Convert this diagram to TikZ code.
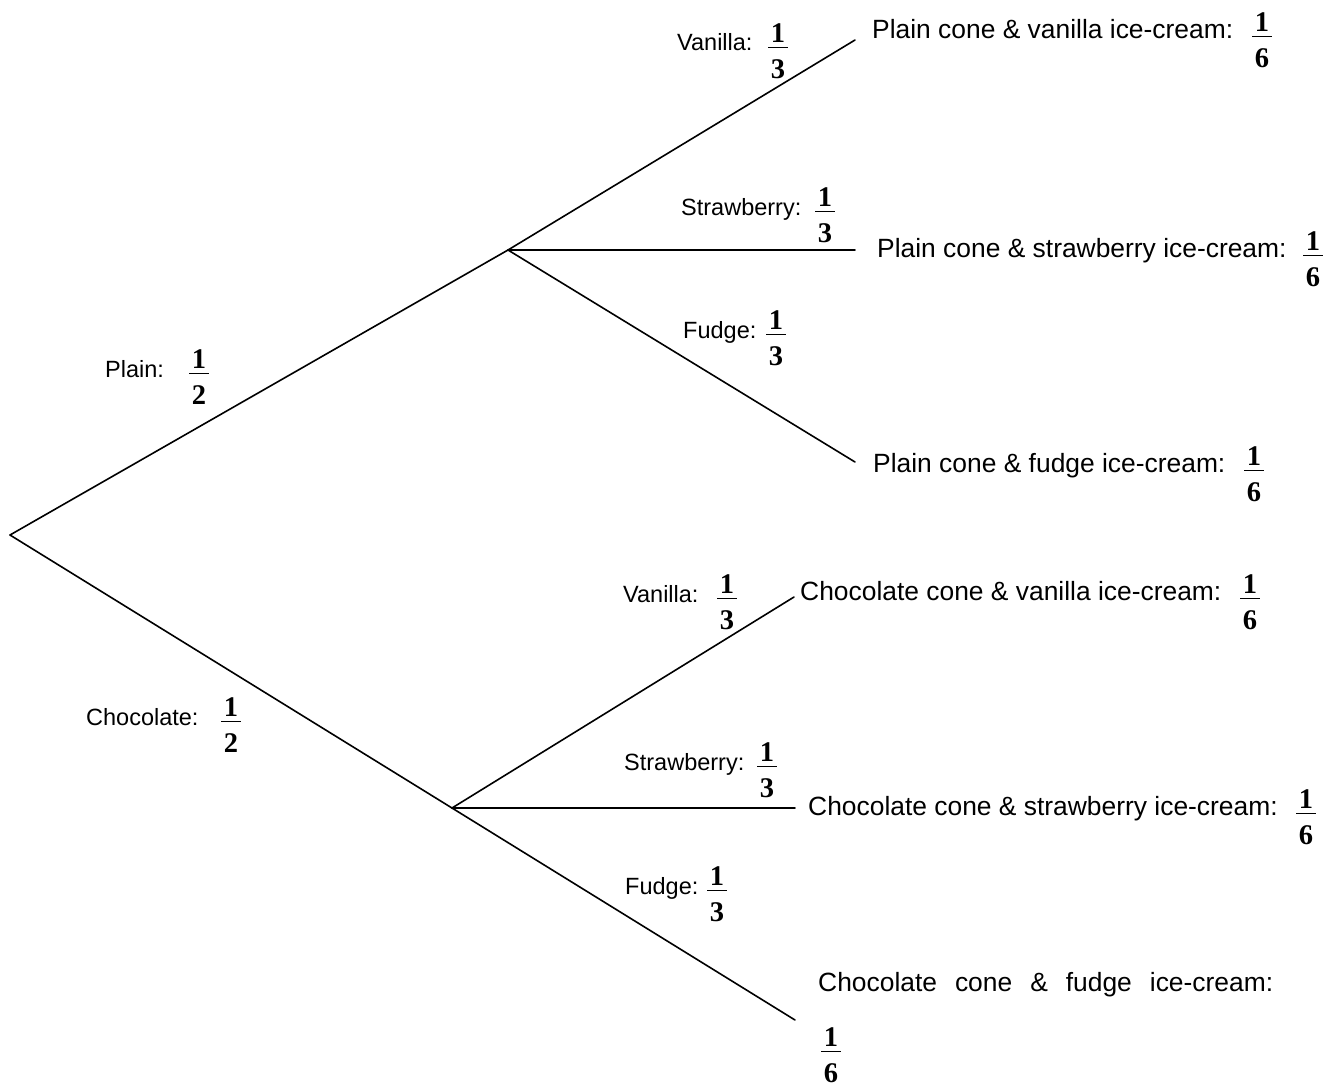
\documentclass[tikz,border=0pt]{standalone}
\usepackage{fontspec}
\setmainfont{Liberation Sans}
\newfontfamily\tnr{Liberation Serif}
\newcommand{\fr}[2]{\vbox{\offinterlineskip\halign{\hfil\kern2.5pt##\kern2.5pt\hfil\cr\tnr\bfseries #1\cr\noalign{\kern5pt\hrule height1.4pt\kern11pt}\tnr\bfseries #2\cr}}}
\tikzset{
  branch/.style={line width=1.6pt, line cap=round},
  lbl/.style={font=\fontsize{23.5}{28}\selectfont, inner sep=0pt, anchor=base west},
  outtext/.style={font=\fontsize{26.4}{31}\selectfont, inner sep=0pt, anchor=base west},
  frac/.style={font=\fontsize{28.5}{33}\selectfont, inner sep=0pt, anchor=north},
}
\begin{document}
\begin{tikzpicture}[x=1pt,y=-1pt]
\useasboundingbox (0,0) rectangle (1340,1090);
% junctions
\coordinate (root) at (10,535);
\coordinate (p) at (508,250);
\coordinate (c) at (452,808);
\coordinate (pv) at (855,40);
\coordinate (ps) at (855,250);
\coordinate (pf) at (855,462);
\coordinate (cv) at (794,597);
\coordinate (cs) at (795,808);
\coordinate (cf) at (795,1020);
% branches
\draw[branch] (root) -- (p);
\draw[branch] (root) -- (c);
\draw[branch] (p) -- (pv);
\draw[branch] (p) -- (ps);
\draw[branch] (p) -- (pf);
\draw[branch] (c) -- (cv);
\draw[branch] (c) -- (cs);
\draw[branch] (c) -- (cf);
% first level labels
\node[lbl] (lp) at (105,377) {Plain:};
\node[frac] (fp) at (199,349) {\fr{1}{2}};
\node[lbl] (lc) at (86,725) {Chocolate:};
\node[frac] (fc) at (231,697) {\fr{1}{2}};
% second level labels (plain)
\node[lbl] (lpv) at (677,50) {Vanilla:};
\node[frac] (fpv) at (778,23) {\fr{1}{3}};
\node[lbl] (lps) at (681,215) {Strawberry:};
\node[frac] (fps) at (825,187) {\fr{1}{3}};
\node[lbl] (lpf) at (683,338) {Fudge:};
\node[frac] (fpf) at (776,310) {\fr{1}{3}};
% second level labels (chocolate)
\node[lbl] (lcv) at (623,602) {Vanilla:};
\node[frac] (fcv) at (727,574) {\fr{1}{3}};
\node[lbl] (lcs) at (624,770) {Strawberry:};
\node[frac] (fcs) at (767,742) {\fr{1}{3}};
\node[lbl] (lcf) at (625,894) {Fudge:};
\node[frac] (fcf) at (717,866) {\fr{1}{3}};
% outcomes
\node[outtext] (opv) at (872,38) {Plain cone \& vanilla ice-cream:};
\node[frac] (gpv) at (1262,12) {\fr{1}{6}};
\node[outtext] (ops) at (877,257) {Plain cone \& strawberry ice-cream:};
\node[frac] (gps) at (1313,231) {\fr{1}{6}};
\node[outtext] (opf) at (873,472) {Plain cone \& fudge ice-cream:};
\node[frac] (gpf) at (1254,446) {\fr{1}{6}};
\node[outtext] (ocv) at (800,600) {Chocolate cone \& vanilla ice-cream:};
\node[frac] (gcv) at (1250,574) {\fr{1}{6}};
\node[outtext] (ocs) at (808,815) {Chocolate cone \& strawberry ice-cream:};
\node[frac] (gcs) at (1306,789) {\fr{1}{6}};
\node[outtext] (ocf) at (818,991) {\hbox to 455pt{Chocolate\hfill cone\hfill\&\hfill fudge\hfill ice-cream:}};
\node[frac] (gcf) at (831,1027) {\fr{1}{6}};
\end{tikzpicture}
\end{document}
